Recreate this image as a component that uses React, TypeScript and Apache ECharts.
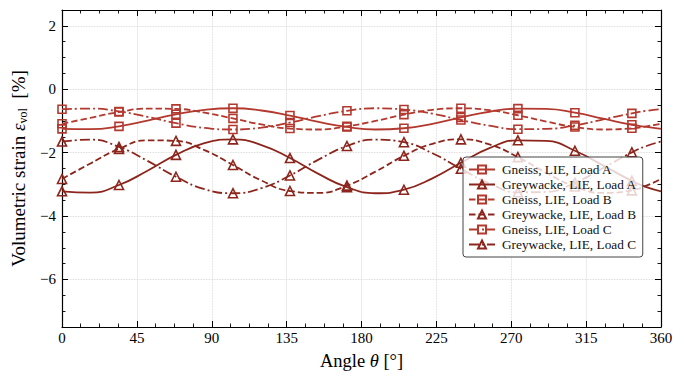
import React, { useEffect, useRef } from "react";
import * as echarts from "echarts";

// Angles (deg) at which the curves were read; markers sit on every other one up to 342.5
const angles = [0, 17.125, 34.25, 51.375, 68.5, 85.625, 102.75, 119.875, 137, 154.125, 171.25, 188.375, 205.5, 222.625, 239.75, 256.875, 274, 291.125, 308.25, 325.375, 342.5, 351.25, 360];

const gneissA = [-1.25, -1.26, -1.17, -0.99, -0.79, -0.65, -0.60, -0.67, -0.83, -1.03, -1.19, -1.27, -1.23, -1.09, -0.89, -0.71, -0.61, -0.62, -0.74, -0.93, -1.12, -1.19, -1.25];
const greywackeA = [-3.22, -3.26, -3.02, -2.57, -2.07, -1.70, -1.58, -1.76, -2.17, -2.67, -3.09, -3.28, -3.17, -2.81, -2.32, -1.86, -1.61, -1.63, -1.94, -2.41, -2.89, -3.09, -3.22];
const gneissB = [-1.09, -0.90, -0.72, -0.61, -0.62, -0.74, -0.92, -1.11, -1.24, -1.27, -1.17, -1.00, -0.80, -0.65, -0.60, -0.66, -0.82, -1.02, -1.19, -1.27, -1.23, -1.17, -1.09];
const greywackeB = [-2.83, -2.34, -1.88, -1.61, -1.63, -1.92, -2.39, -2.88, -3.21, -3.27, -3.04, -2.60, -2.10, -1.72, -1.58, -1.74, -2.14, -2.64, -3.07, -3.27, -3.19, -3.04, -2.83];
const gneissC = [-0.63, -0.61, -0.70, -0.87, -1.07, -1.22, -1.27, -1.21, -1.05, -0.85, -0.68, -0.60, -0.64, -0.77, -0.97, -1.15, -1.26, -1.25, -1.14, -0.95, -0.76, -0.68, -0.63];
const greywackeC = [-1.65, -1.59, -1.82, -2.26, -2.76, -3.15, -3.28, -3.12, -2.72, -2.22, -1.79, -1.59, -1.67, -2.02, -2.51, -2.97, -3.25, -3.24, -2.95, -2.48, -1.99, -1.79, -1.65];

const seriesNames = [
  "Gneiss, LIE, Load A",
  "Greywacke, LIE, Load A",
  "Gneiss, LIE, Load B",
  "Greywacke, LIE, Load B",
  "Gneiss, LIE, Load C",
  "Greywacke, LIE, Load C",
];

const SERIF = "'Liberation Serif', 'DejaVu Serif', serif";
const GNEISS = "#b3392f";
const GREY = "#8c261c";
const DASHED = [6.5, 3];
const DASHDOT = [10, 3, 2, 3];

function makeSeries(name: string, vals: number[], color: string, dash: any, symbol: string, size: number) {
  return {
    name,
    type: "line",
    smooth: true,
    clip: false,
    symbol,
    symbolSize: size,
    data: angles.map((a, i) => ({
      value: [a, vals[i]],
      symbol: i % 2 === 0 && i <= 20 ? symbol : "none",
    })),
    lineStyle: { color, width: 1.8, type: dash },
    itemStyle: { color: "rgba(255,255,255,0)", borderColor: color, borderWidth: 1.6 },
    emphasis: { disabled: true },
  };
}

function fmtTick(v: number) {
  if (Math.abs(v - Math.round(v)) > 1e-9) return "";
  return v < 0 ? "\u2212" + Math.abs(v) : String(v);
}

export default function App() {
  const ref = useRef<HTMLDivElement>(null);
  useEffect(() => {
    if (!ref.current) return;
    const chart = echarts.init(ref.current, null, { renderer: "svg" });
    const axisLine = { show: true, onZero: false, lineStyle: { color: "#000", width: 1.2 } };
    const tick = { show: true, inside: true, length: 6, lineStyle: { color: "#000", width: 1 } };
    const minor = { show: true, splitNumber: 4, length: 3.5, lineStyle: { color: "#000", width: 0.9 } };
    const grid = { show: true, lineStyle: { color: "#cfcfcf", type: "dotted", width: 0.8 } };
    const label = { fontFamily: SERIF, fontSize: 15, color: "#000" };
    chart.setOption({
      animation: false,
      backgroundColor: "#fff",
      grid: { left: 62, right: 23, top: 10, bottom: 57 },
      xAxis: [
        {
          type: "value", min: 0, max: 360, interval: 45, position: "bottom",
          axisLine, axisTick: tick, minorTick: minor, splitLine: grid,
          axisLabel: { ...label, margin: 3 },
          name: "{a|Angle }{i|θ}{a| [°]}",
          nameLocation: "middle", nameGap: 24,
          nameTextStyle: {
            rich: {
              a: { fontFamily: SERIF, fontSize: 18.5, color: "#000" },
              i: { fontFamily: SERIF, fontSize: 18.5, fontStyle: "italic", color: "#000" },
            },
          },
        },
        {
          type: "value", min: 0, max: 360, interval: 45, position: "top",
          axisLine, axisTick: tick, minorTick: minor, splitLine: { show: false },
          axisLabel: { show: false },
        },
      ],
      yAxis: [
        {
          type: "value", min: -7.5, max: 2.5, splitNumber: 5, position: "left",
          axisLine, axisTick: tick, minorTick: minor, splitLine: grid,
          axisLabel: { ...label, margin: 6, formatter: fmtTick, showMinLabel: false, showMaxLabel: false },
          name: "{a|Volumetric strain }{i|ε}{s|vol}{a|  [%]}",
          nameLocation: "middle", nameGap: 33, nameRotate: 90,
          nameTextStyle: {
            rich: {
              a: { fontFamily: SERIF, fontSize: 19, color: "#000", lineHeight: 22 },
              i: { fontFamily: SERIF, fontSize: 19, fontStyle: "italic", color: "#000", lineHeight: 22 },
              s: { fontFamily: SERIF, fontSize: 12, color: "#000", lineHeight: 13, verticalAlign: "bottom" },
            },
          },
        },
        {
          type: "value", min: -7.5, max: 2.5, splitNumber: 5, position: "right",
          axisLine, axisTick: tick, minorTick: minor, splitLine: { show: false },
          axisLabel: { show: false },
        },
      ],
      legend: {
        orient: "vertical",
        left: 463, top: 157,
        padding: [6, 6, 6, 5],
        itemGap: 2,
        itemWidth: 26,
        itemHeight: 10,
        backgroundColor: "rgba(255,255,255,0.8)",
        borderColor: "#444",
        borderWidth: 1,
        borderRadius: 3,
        textStyle: { fontFamily: SERIF, fontSize: 13.3, color: "#111", padding: [0, 0, 0, 2] },
        data: seriesNames,
      },
      series: [
        makeSeries(seriesNames[0], gneissA, GNEISS, "solid", "rect", 8),
        makeSeries(seriesNames[1], greywackeA, GREY, "solid", "triangle", 9),
        makeSeries(seriesNames[2], gneissB, GNEISS, DASHED, "rect", 8),
        makeSeries(seriesNames[3], greywackeB, GREY, DASHED, "triangle", 9),
        makeSeries(seriesNames[4], gneissC, GNEISS, DASHDOT, "rect", 8),
        makeSeries(seriesNames[5], greywackeC, GREY, DASHDOT, "triangle", 9),
      ],
    });
    return () => chart.dispose();
  }, []);
  return <div ref={ref} style={{ position: "fixed", left: 0, top: 0, width: 684, height: 384 }} />;
}
